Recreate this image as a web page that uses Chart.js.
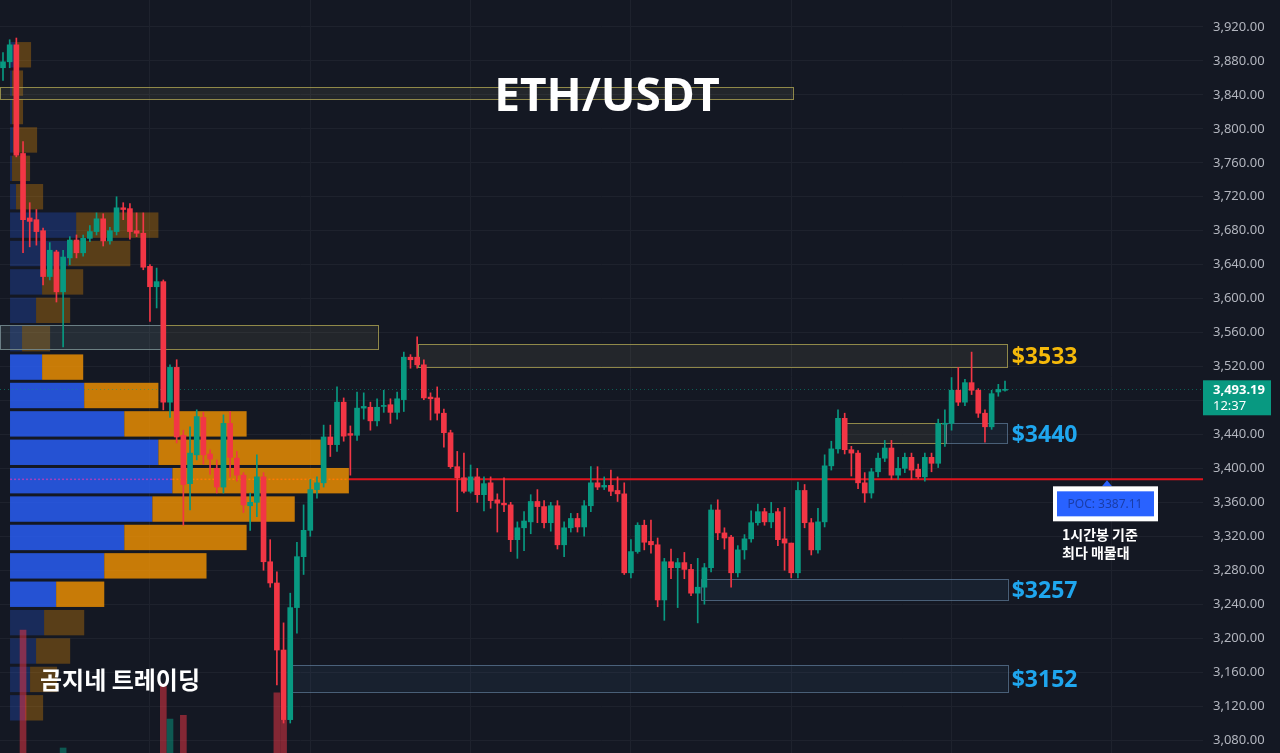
<!DOCTYPE html>
<html>
<head>
<meta charset="utf-8">
<script src="https://cdn.jsdelivr.net/npm/chart.js@4.4.1/dist/chart.umd.min.js"></script>
<style>
  html, body { margin: 0; padding: 0; background: #141823; overflow: hidden; }
  #wrap { position: relative; width: 1280px; height: 753px; }
</style>
</head>
<body>
<div id="wrap"><canvas id="chart"></canvas></div>
<script>
// ETH/USDT 1시간봉 (캔들 151개)
const opens = [3872,3879,3899,3771,3695,3693,3680,3626,3655,3608,3648,3669,3654,3671,3679,3694,3668,3679,3707,3706,
  3680,3677,3638,3614,3620,3478,3519,3439,3382,3416,3460,3417,3400,3378,3453,3412,3392,3356,3360,3390,
  3290,3265,3186,3104,3236,3296,3327,3375,3383,3437,3428,3478,3441,3439,3471,3472,3456,3473,3475,3466,
  3481,3531,3531,3522,3484,3483,3465,3442,3402,3389,3373,3390,3369,3383,3363,3359,3357,3316,3330,3337,
  3361,3355,3336,3356,3310,3330,3341,3331,3356,3383,3378,3380,3374,3370,3277,3302,3333,3314,3310,3245,
  3290,3283,3289,3281,3253,3260,3283,3351,3324,3319,3277,3304,3317,3336,3349,3337,3349,3317,3312,3277,
  3374,3336,3304,3337,3403,3423,3459,3422,3418,3383,3371,3396,3412,3424,3392,3400,3413,3399,3390,3413,
  3406,3452,3453,3492,3478,3501,3492,3465,3449,3490,3492];
const highs = [3890,3905,3907,3785,3713,3705,3683,3666,3657,3657,3673,3675,3675,3686,3701,3700,3684,3720,3713,3712,
  3701,3701,3640,3636,3622,3522,3528,3445,3449,3469,3466,3422,3410,3463,3467,3420,3395,3371,3416,3395,
  3316,3278,3218,3253,3313,3357,3387,3390,3451,3451,3496,3483,3450,3490,3489,3478,3482,3492,3482,3490,
  3537,3534,3555,3528,3489,3496,3470,3445,3420,3418,3404,3400,3390,3390,3370,3389,3360,3337,3349,3369,
  3375,3362,3360,3362,3337,3347,3347,3362,3402,3402,3390,3398,3390,3383,3316,3336,3339,3339,3318,3294,
  3305,3294,3301,3287,3294,3288,3357,3363,3330,3321,3309,3322,3350,3358,3353,3360,3353,3354,3312,3384,
  3381,3341,3353,3416,3432,3469,3465,3426,3421,3395,3400,3418,3433,3433,3413,3418,3418,3405,3418,3418,
  3458,3469,3507,3519,3505,3537,3494,3469,3492,3499,3503];
const lows = [3857,3872,3767,3654,3661,3663,3616,3622,3596,3543,3640,3648,3650,3667,3675,3662,3664,3675,3693,3670,
  3673,3634,3573,3589,3469,3460,3430,3333,3351,3410,3405,3393,3371,3371,3390,3385,3348,3327,3343,3280,
  3260,3145,3100,3100,3206,3275,3320,3365,3378,3414,3420,3432,3392,3433,3458,3445,3450,3466,3453,3458,
  3467,3518,3518,3481,3457,3457,3425,3400,3349,3371,3371,3360,3350,3353,3325,3349,3302,3294,3303,3323,
  3336,3330,3326,3305,3296,3325,3325,3320,3349,3375,3375,3368,3361,3275,3271,3300,3304,3300,3237,3221,
  3270,3236,3270,3250,3218,3240,3278,3316,3305,3260,3272,3293,3313,3333,3333,3330,3309,3280,3271,3271,
  3330,3298,3300,3331,3398,3418,3417,3391,3376,3360,3365,3390,3408,3387,3387,3395,3387,3388,3385,3396,
  3401,3426,3445,3474,3474,3487,3460,3431,3446,3485,3491];
const closes = [3879,3899,3769,3693,3691,3679,3626,3657,3608,3649,3669,3654,3671,3679,3694,3668,3680,3707,3705,3679,
  3677,3637,3614,3620,3478,3519,3437,3381,3418,3461,3416,3411,3378,3453,3413,3392,3357,3360,3390,3290,
  3265,3186,3104,3236,3296,3327,3375,3383,3437,3428,3478,3438,3439,3471,3473,3456,3472,3474,3466,3482,
  3531,3528,3522,3483,3482,3465,3442,3402,3389,3373,3390,3369,3382,3362,3359,3357,3316,3330,3338,3361,
  3355,3336,3356,3310,3330,3341,3331,3356,3383,3378,3380,3373,3370,3277,3302,3333,3313,3310,3245,3290,
  3283,3289,3281,3253,3260,3283,3351,3324,3318,3277,3304,3317,3336,3349,3337,3347,3316,3312,3277,3374,
  3336,3304,3337,3403,3423,3459,3422,3418,3383,3371,3396,3412,3424,3392,3400,3413,3398,3390,3413,3406,
  3453,3453,3492,3478,3501,3492,3465,3449,3488,3493,3493.19];

// 화면에 보이는 거래량 막대만 (천 ETH)
const volIdx = [3, 9, 24, 25, 27, 41, 42];
const volVal = [89, 42, 67.5, 53.5, 55, 64, 53];

// 매물대 (위에서 아래로 24구간)
const vpHigh = 3904;
const vpLow = 3101.2;
const vpUp = [2.5, 1, 1, 1.5, 1, 3, 33, 29, 16, 13, 6, 16, 37, 57, 74, 81, 71, 57, 47, 23, 17, 13, 10, 7.5];
const vpDown = [8, 5.5, 5.5, 12, 9, 13.5, 41, 31, 20.5, 17, 14, 20.5, 37, 61, 81, 88, 71, 61, 51, 24, 20, 17, 13.5, 9];
const vaHigh = 3536;
const vaLow = 3235;
const poc = 3387.11;
const lastPrice = 3493.19;
const lastTime = '12:37';

// 지지/저항 구간
const zoneFrom = [-0.45, -0.45, -0.45, 62.2, 125.9, 141.2, 104.5, 42.9];
const zoneTo = [118.3, 56.1, 24, 150.4, 141.2, 150.4, 150.4, 150.4];
const zoneTop = [3849.3, 3568.9, 3568.9, 3546.5, 3453.5, 3453.5, 3269.7, 3168.4];
const zoneBottom = [3835.2, 3540.6, 3540.6, 3519.4, 3429.9, 3429.9, 3245.0, 3136.6];
const zoneKind = ['s', 's', 'd', 's', 's', 'd', 'd', 'd'];
const zoneLabel = ['', '', '', '$3533', '', '$3440', '$3257', '$3152'];

const yTicks = [];
for (let v = 3080; v <= 3920; v += 40) yTicks.push(v);
const xGridTicks = [22, 46, 70, 94, 118, 142, 166];

const UP = '#089981';
const DOWN = '#f23645';

const bodyData = opens.map((o, i) => ({ x: i, y: [o, closes[i]] }));
const wickData = opens.map((o, i) => ({ x: i, y: [lows[i], highs[i]] }));
const candleColors = opens.map((o, i) => closes[i] >= o ? UP : DOWN);
const volData = volIdx.map((idx, k) => ({ x: idx, y: volVal[k] }));
const volColors = volIdx.map(idx => closes[idx] >= opens[idx] ? 'rgba(8,153,129,0.5)' : 'rgba(242,54,69,0.5)');

/**
 * 매물대 + 구간 박스 그리기
 */
const overlayPlugin = {
    id: 'overlay',
    beforeDatasetsDraw(chart) {
        const { ctx, chartArea, scales } = chart;
        const y = scales.y, x = scales.x, xvp = scales.xvp;
        const step = (vpHigh - vpLow) / vpUp.length;
        const base = 5;
        ctx.save();
        ctx.beginPath();
        ctx.rect(chartArea.left, chartArea.top, chartArea.right - chartArea.left, chartArea.bottom - chartArea.top);
        ctx.clip();

        let pocEnd = 0;
        for (let i = 0; i < vpUp.length; i++) {
            const hi = vpHigh - step * i;
            const lo = hi - step;
            const top = y.getPixelForValue(hi) + 1.5;
            const bot = y.getPixelForValue(lo) - 1.5;
            const inVA = lo >= vaLow - 1 && hi <= vaHigh + 1;
            const x0 = xvp.getPixelForValue(base);
            const x1 = xvp.getPixelForValue(base + vpUp[i]);
            const x2 = xvp.getPixelForValue(base + vpUp[i] + vpDown[i]);
            ctx.fillStyle = inVA ? 'rgba(41,98,255,0.8)' : 'rgba(41,98,255,0.25)';
            ctx.fillRect(x0, top, x1 - x0, bot - top);
            ctx.fillStyle = inVA ? 'rgba(251,151,0,0.78)' : 'rgba(251,151,0,0.3)';
            ctx.fillRect(x1, top, x2 - x1, bot - top);
            if (poc <= hi && poc > lo) {
                pocEnd = x2;
                const py = y.getPixelForValue(poc);
                ctx.setLineDash([2, 2]);
                ctx.lineWidth = 1.5;
                ctx.strokeStyle = '#a040c0';
                ctx.beginPath(); ctx.moveTo(x0, py); ctx.lineTo(x1, py); ctx.stroke();
                ctx.strokeStyle = '#ff7a00';
                ctx.beginPath(); ctx.moveTo(x1, py); ctx.lineTo(x2, py); ctx.stroke();
                ctx.setLineDash([]);
            }
        }

        // 구간 박스
        zoneFrom.forEach((f, i) => {
            const l = x.getPixelForValue(f);
            const r = x.getPixelForValue(zoneTo[i]);
            const t = y.getPixelForValue(zoneTop[i]);
            const b = y.getPixelForValue(zoneBottom[i]);
            const supply = zoneKind[i] === 's';
            ctx.fillStyle = supply ? 'rgba(140,140,100,0.13)' : 'rgba(60,95,140,0.12)';
            ctx.fillRect(l, t, r - l, b - t);
            ctx.strokeStyle = supply ? 'rgba(165,155,80,0.85)' : 'rgba(95,125,155,0.7)';
            ctx.lineWidth = 1;
            ctx.strokeRect(Math.round(l) + 0.5, Math.round(t) + 0.5, Math.round(r - l), Math.round(b - t));
        });

        // POC 라인
        const py = y.getPixelForValue(poc);
        ctx.strokeStyle = '#e0141e';
        ctx.lineWidth = 2;
        ctx.beginPath(); ctx.moveTo(pocEnd, py); ctx.lineTo(chartArea.right, py); ctx.stroke();

        // 현재가 점선
        const ly = Math.round(y.getPixelForValue(lastPrice)) + 0.5;
        ctx.strokeStyle = 'rgba(8,153,129,0.55)';
        ctx.lineWidth = 1;
        ctx.setLineDash([1, 3]);
        ctx.beginPath(); ctx.moveTo(chartArea.left, ly); ctx.lineTo(chartArea.right, ly); ctx.stroke();
        ctx.setLineDash([]);
        ctx.restore();
    },
    afterDraw(chart) {
        const { ctx, chartArea, scales } = chart;
        const y = scales.y, x = scales.x;
        ctx.save();
        ctx.textBaseline = 'middle';

        // 제목
        ctx.fillStyle = '#ffffff';
        ctx.textAlign = 'center';
        ctx.font = 'bold 46px "Noto Sans", sans-serif';
        ctx.fillText('ETH/USDT', 607, 98);

        ctx.font = 'bold 24px "Noto Sans CJK KR", sans-serif';
        ctx.fillText('곰지네 트레이딩', 120, 680);

        // 구간 라벨
        ctx.textAlign = 'left';
        ctx.font = 'bold 23px "Noto Sans", sans-serif';
        zoneLabel.forEach((txt, i) => {
            if (!txt) return;
            const lx = x.getPixelForValue(zoneTo[i]) + 4;
            const my = y.getPixelForValue((zoneTop[i] + zoneBottom[i]) / 2);
            ctx.fillStyle = zoneKind[i] === 's' ? '#f5b90a' : '#1fa6ee';
            ctx.fillText(txt, lx, my + 2);
        });

        // POC 라벨
        const py = y.getPixelForValue(poc);
        ctx.fillStyle = '#2962ff';
        ctx.beginPath();
        ctx.moveTo(1107, py + 1); ctx.lineTo(1112, py + 7); ctx.lineTo(1102, py + 7); ctx.closePath();
        ctx.fill();
        ctx.fillStyle = '#ffffff';
        ctx.fillRect(1053, py + 7, 105, 35);
        ctx.fillStyle = '#2962ff';
        ctx.fillRect(1057, py + 12, 97, 25);
        ctx.fillStyle = '#1a3da8';
        ctx.textAlign = 'center';
        ctx.font = '12px "Noto Sans", sans-serif';
        ctx.fillText('POC: ' + poc.toFixed(2), 1105, py + 25);

        ctx.fillStyle = '#ffffff';
        ctx.textAlign = 'left';
        ctx.font = 'bold 14px "Noto Sans CJK KR", sans-serif';
        ctx.fillText('1시간봉 기준', 1062, py + 55);
        ctx.fillText('최다 매물대', 1062, py + 73);

        // 현재가 태그
        const ly = y.getPixelForValue(lastPrice);
        ctx.fillStyle = UP;
        ctx.fillRect(chartArea.right, ly - 9, 68, 35);
        ctx.fillStyle = '#ffffff';
        ctx.font = 'bold 13px "Noto Sans", sans-serif';
        ctx.fillText(lastPrice.toLocaleString('en-US', { minimumFractionDigits: 2 }), chartArea.right + 10, ly + 1);
        ctx.font = '13px "Noto Sans", sans-serif';
        ctx.fillText(lastTime, chartArea.right + 10, ly + 17);
        ctx.restore();
    }
};

const ctxEl = document.getElementById('chart');
new Chart(ctxEl, {
    type: 'bar',
    data: {
        datasets: [
            {
                label: 'body',
                data: bodyData,
                backgroundColor: candleColors,
                barThickness: 5,
                minBarLength: 1,
                grouped: false,
                order: 0
            },
            {
                label: 'wick',
                data: wickData,
                backgroundColor: candleColors,
                barThickness: 1,
                grouped: false,
                order: 1
            },
            {
                label: 'volume',
                data: volData,
                yAxisID: 'yv',
                backgroundColor: volColors,
                barThickness: 6,
                grouped: false,
                order: 2
            }
        ]
    },
    plugins: [overlayPlugin],
    options: {
        responsive: true,
        maintainAspectRatio: false,
        animation: false,
        layout: { padding: 0 },
        plugins: {
            legend: { display: false },
            tooltip: { enabled: false }
        },
        scales: {
            x: {
                type: 'linear',
                offset: false,
                min: -0.449,
                max: 179.64,
                afterBuildTicks: s => { s.ticks = xGridTicks.map(v => ({ value: v })); },
                afterFit: s => { s.height = 0; s.paddingLeft = 0; s.paddingRight = 0; },
                ticks: { display: false },
                grid: { color: '#1e222d', drawTicks: false, offset: false },
                border: { display: false }
            },
            xvp: {
                type: 'linear',
                position: 'bottom',
                display: false,
                offset: false,
                grid: { offset: false },
                min: 0,
                max: 600
            },
            y: {
                type: 'linear',
                position: 'right',
                min: 3064.7,
                max: 3951.8,
                afterFit: s => { s.width = 77; s.paddingTop = 0; s.paddingBottom = 0; },
                afterBuildTicks: s => { s.ticks = yTicks.map(v => ({ value: v })); },
                ticks: {
                    padding: 10,
                    color: '#b2b5be',
                    font: { family: '"Noto Sans", sans-serif', size: 13 },
                    callback: v => v.toLocaleString('en-US', { minimumFractionDigits: 2 })
                },
                grid: { color: '#1e222d', drawTicks: false },
                border: { display: false }
            },
            yv: {
                type: 'linear',
                position: 'left',
                display: false,
                min: 40,
                max: 340
            }
        }
    }
});
</script>
</body>
</html>
